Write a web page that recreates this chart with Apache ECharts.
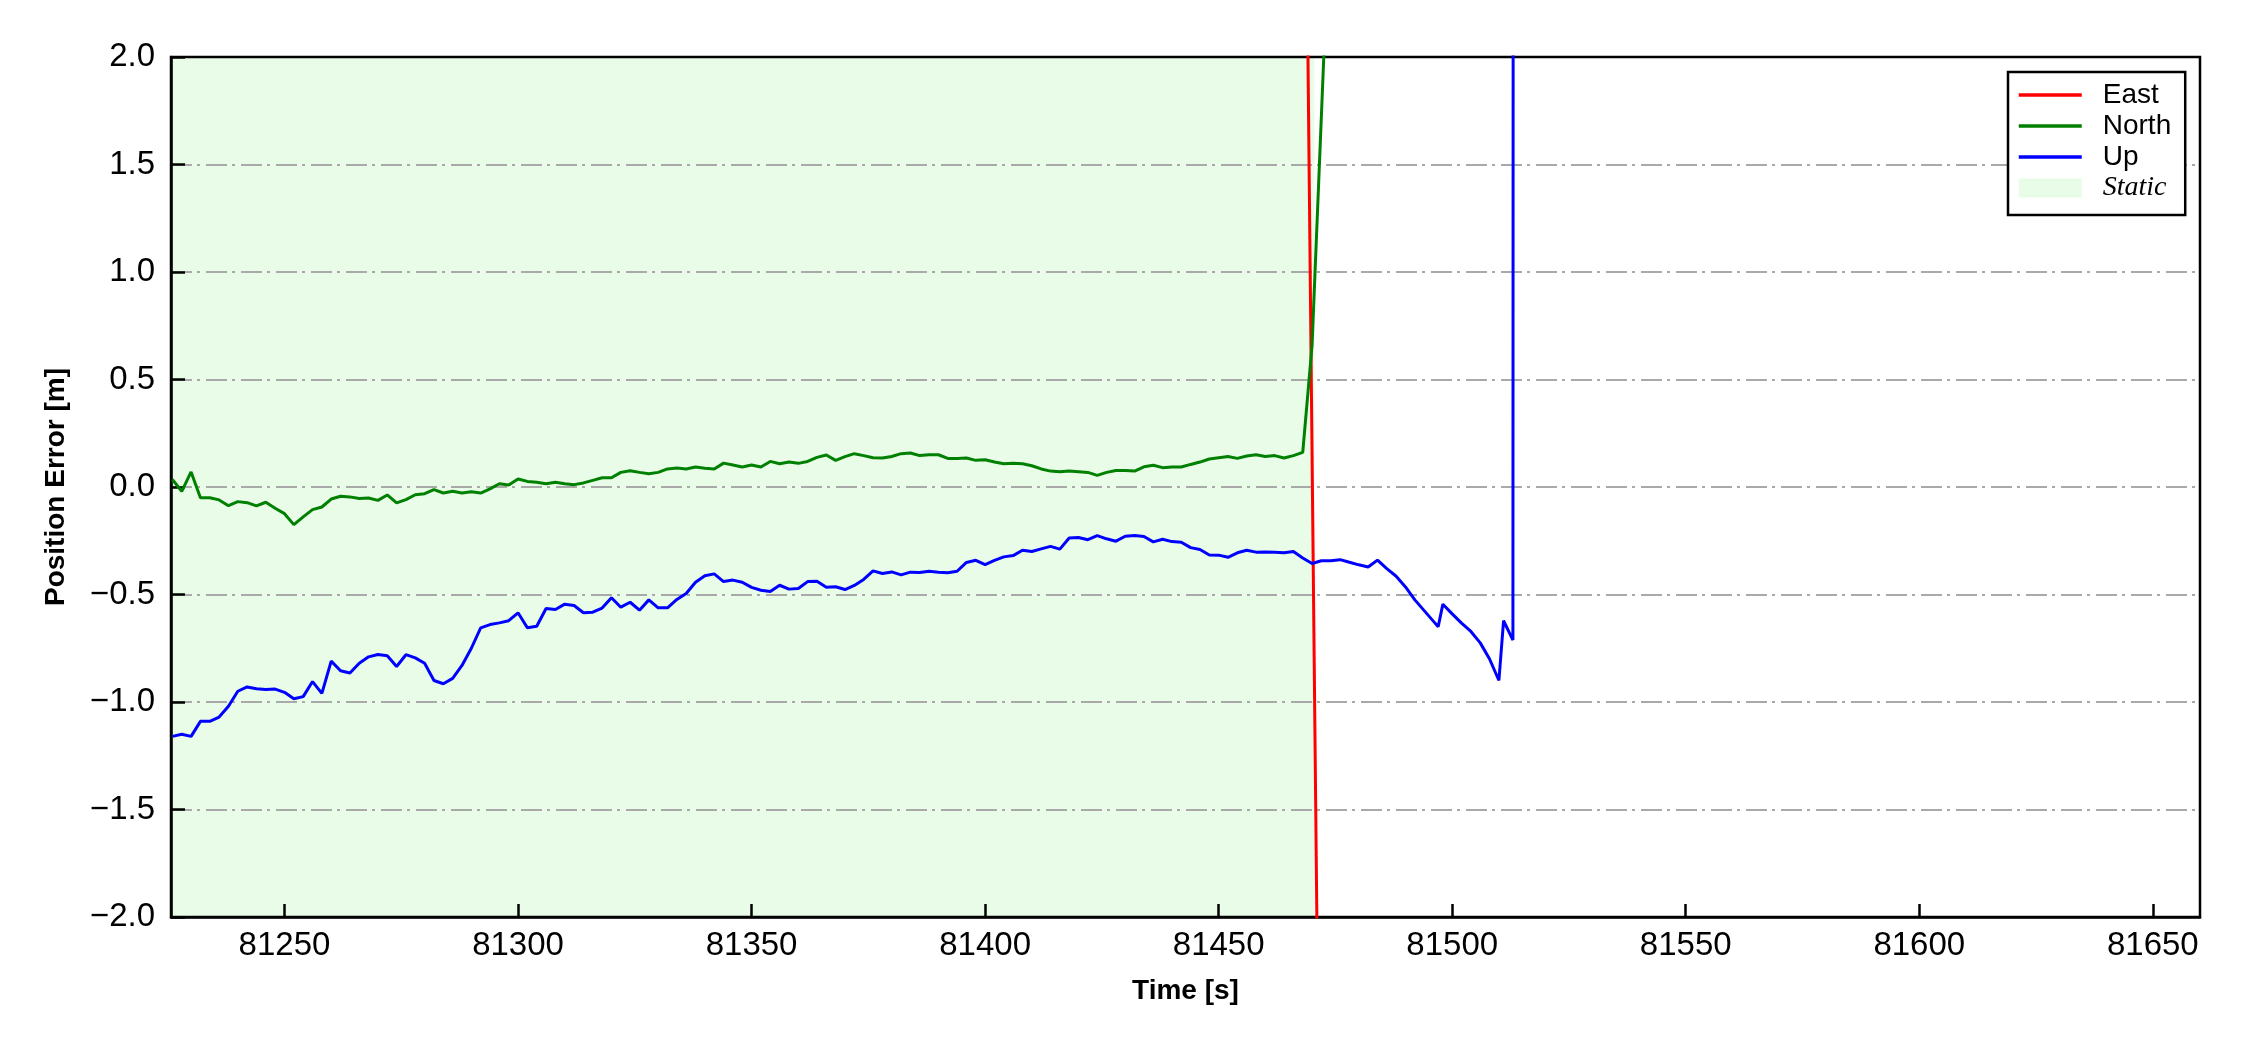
<!DOCTYPE html>
<html>
<head>
<meta charset="utf-8">
<script src="https://cdn.jsdelivr.net/npm/echarts@6/dist/echarts.min.js"></script>
<style>
  html, body { margin: 0; padding: 0; background: #fff; }
  #chart { width: 2250px; height: 1050px; }
</style>
</head>
<body>
<div id="chart"></div>
<script>
// sampling grid of the static part (s)
const staticStart = 81226
const staticStep = 2

// North error [m], 81226 .. 81468 every 2 s
const northStatic = [
  0.035, -0.02, 0.07, -0.05, -0.05, -0.06, -0.087, -0.068, -0.073, -0.088,
  -0.071, -0.099, -0.124, -0.175, -0.139, -0.105, -0.093, -0.056, -0.043, -0.046,
  -0.053, -0.051, -0.062, -0.037, -0.074, -0.059, -0.036, -0.031, -0.012, -0.028,
  -0.02, -0.028, -0.022, -0.028, -0.009, 0.015, 0.009, 0.037, 0.026, 0.022,
  0.015, 0.022, 0.015, 0.011, 0.019, 0.031, 0.043, 0.043, 0.068, 0.076,
  0.068, 0.062, 0.068, 0.084, 0.088, 0.084, 0.093, 0.087, 0.084, 0.111,
  0.102, 0.093, 0.102, 0.093, 0.119, 0.108, 0.116, 0.11, 0.119, 0.138,
  0.149, 0.124, 0.141, 0.155, 0.146, 0.136, 0.135, 0.142, 0.155, 0.158,
  0.146, 0.15, 0.15, 0.133, 0.133, 0.135, 0.124, 0.127, 0.116, 0.108,
  0.11, 0.108, 0.099, 0.084, 0.074, 0.071, 0.074, 0.071, 0.068, 0.054,
  0.068, 0.077, 0.077, 0.074, 0.094, 0.101, 0.09, 0.093, 0.093, 0.105,
  0.116, 0.13, 0.136, 0.142, 0.133, 0.144, 0.15, 0.142, 0.146, 0.135,
  0.146, 0.161
]
const northTailTime = [81470, 81474]
const northTailValue = [0.66, 2.8]

// Up error [m], 81226 .. 81470 every 2 s
const upStatic = [
  -1.16, -1.15, -1.16, -1.09, -1.09, -1.07, -1.02, -0.95, -0.93, -0.938,
  -0.942, -0.94, -0.955, -0.985, -0.975, -0.905, -0.96, -0.81, -0.855, -0.865,
  -0.82, -0.79, -0.779, -0.785, -0.835, -0.78, -0.795, -0.82, -0.9, -0.915,
  -0.89, -0.83, -0.75, -0.655, -0.64, -0.632, -0.622, -0.585, -0.655, -0.648,
  -0.565, -0.57, -0.545, -0.551, -0.585, -0.582, -0.563, -0.515, -0.559, -0.536,
  -0.573, -0.525, -0.562, -0.562, -0.523, -0.495, -0.443, -0.413, -0.404, -0.44,
  -0.433, -0.443, -0.467, -0.48, -0.486, -0.457, -0.475, -0.472, -0.44, -0.438,
  -0.466, -0.464, -0.477, -0.458, -0.43, -0.39, -0.402, -0.395, -0.409, -0.396,
  -0.398, -0.392, -0.396, -0.399, -0.392, -0.351, -0.341, -0.361, -0.341, -0.325,
  -0.319, -0.294, -0.3, -0.288, -0.276, -0.289, -0.237, -0.235, -0.245, -0.226,
  -0.241, -0.252, -0.229, -0.226, -0.23, -0.255, -0.243, -0.254, -0.257, -0.282,
  -0.291, -0.316, -0.317, -0.327, -0.306, -0.294, -0.303, -0.302, -0.303, -0.306,
  -0.3, -0.33, -0.356
]
const upTailTime = [
  81472, 81474, 81476, 81478, 81480, 81482, 81484, 81486, 81488, 81490,
  81492, 81494, 81496, 81497, 81498, 81500, 81502, 81504, 81506, 81508,
  81510, 81511, 81513, 81514
]
const upTailValue = [
  -0.343, -0.343, -0.338, -0.35, -0.362, -0.372, -0.34, -0.38, -0.415, -0.465,
  -0.525, -0.575, -0.625, -0.65, -0.545, -0.59, -0.633, -0.672, -0.725, -0.8,
  -0.9, -0.622, -0.712, 60
]

// East error [m]
const eastTime = [81468, 81472]
const eastValue = [4.35, -4.05]

// static period, axis limits and ticks
const staticSpan = [81225.7, 81470.5]
const xRange = [81225.7, 81660.1]
const xTicks = [81250, 81300, 81350, 81400, 81450, 81500, 81550, 81600, 81650]
const yRange = [-2, 2]

const seriesNames = ['East', 'North', 'Up', 'Static']
const seriesColors = ['#ff0000', '#008000', '#0000ff', '#e8fce8']

const pairs = (ts, vs) => ts.map((t, i) => [t, vs[i]])
const gridTimes = (vs) => vs.map((_, i) => staticStart + i * staticStep)

const northData = pairs(gridTimes(northStatic), northStatic).concat(pairs(northTailTime, northTailValue))
const upData = pairs(gridTimes(upStatic), upStatic).concat(pairs(upTailTime, upTailValue))
const eastData = pairs(eastTime, eastValue)

const font = 'Liberation Sans'
const minus = (s) => s.replace('-', '\u2212')

const lineSeries = (name, color, data) => ({
  type: 'line',
  name,
  data,
  symbol: 'none',
  clip: true,
  z: 3,
  lineStyle: { color, width: 3 },
  itemStyle: { color }
})

const chart = echarts.init(document.getElementById('chart'))
chart.setOption({
  animation: false,
  grid: {
    left: 171, right: 50, top: 57, bottom: 133,
    containLabel: false,
    outerBoundsMode: 'none',
    show: true,
    borderColor: '#000',
    borderWidth: 2.5,
    backgroundColor: 'transparent'
  },
  legend: {
    orient: 'vertical',
    left: 2008,
    top: 72,
    padding: [9, 14, 13, 9],
    itemGap: 3,
    itemWidth: 63,
    itemHeight: 19,
    borderColor: '#000',
    borderWidth: 2.5,
    backgroundColor: '#fff',
    lineStyle: { width: 3.5 },
    textStyle: { fontFamily: font, fontSize: 28, color: '#000', padding: [0, 0, 0, 16] },
    data: [
      { name: 'East', itemStyle: { opacity: 0 } },
      { name: 'North', itemStyle: { opacity: 0 } },
      { name: 'Up', itemStyle: { opacity: 0 } },
      {
        name: 'Static',
        icon: 'rect',
        itemStyle: { color: seriesColors[3] },
        textStyle: { fontFamily: 'Liberation Serif', fontStyle: 'italic', fontSize: 28 }
      }
    ]
  },
  xAxis: {
    type: 'value',
    min: xRange[0],
    max: xRange[1],
    name: 'Time [s]',
    nameLocation: 'middle',
    nameGap: 60,
    nameTextStyle: { fontFamily: font, fontSize: 28, fontWeight: 'bold', color: '#000' },
    axisLine: { show: true, onZero: false, lineStyle: { color: '#000', width: 2.5 } },
    axisTick: { show: true, inside: true, length: 13, customValues: xTicks, lineStyle: { color: '#000', width: 2.5 } },
    axisLabel: { customValues: xTicks, margin: 12, fontFamily: font, fontSize: 33, color: '#000', formatter: (v) => String(v) },
    splitLine: { show: false }
  },
  yAxis: {
    type: 'value',
    min: yRange[0],
    max: yRange[1],
    interval: 0.5,
    name: 'Position Error [m]',
    nameLocation: 'middle',
    nameGap: 101,
    nameTextStyle: { fontFamily: font, fontSize: 28, fontWeight: 'bold', color: '#000' },
    axisLine: { show: true, onZero: false, lineStyle: { color: '#000', width: 2.5 } },
    axisTick: { show: true, inside: true, length: 14, lineStyle: { color: '#000', width: 2.5 } },
    axisLabel: {
      margin: 16, fontFamily: font, fontSize: 33, color: '#000',
      formatter: (v) => minus(v.toFixed(1))
    },
    splitLine: {
      show: true,
      showMinLine: false,
      showMaxLine: false,
      lineStyle: { color: '#a9a9a9', width: 2, type: [21, 5, 3, 6] }
    }
  },
  series: [
    lineSeries(seriesNames[0], seriesColors[0], eastData),
    lineSeries(seriesNames[1], seriesColors[1], northData),
    lineSeries(seriesNames[2], seriesColors[2], upData),
    {
      type: 'line',
      name: seriesNames[3],
      data: [],
      symbol: 'none',
      z: -1,
      itemStyle: { color: seriesColors[3] },
      lineStyle: { color: seriesColors[3] },
      markArea: {
        silent: true,
        z: -1,
        itemStyle: { color: seriesColors[3] },
        data: [[{ xAxis: staticSpan[0] }, { xAxis: staticSpan[1] }]]
      }
    }
  ]
})
</script>
</body>
</html>
